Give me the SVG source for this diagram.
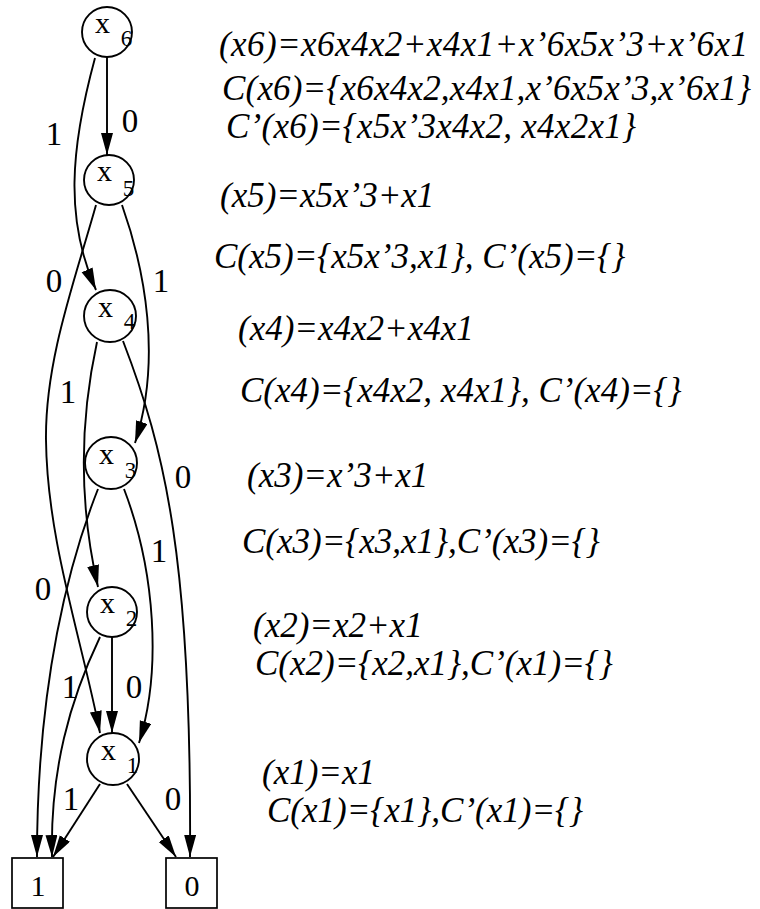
<svg xmlns="http://www.w3.org/2000/svg" width="760" height="909" viewBox="0 0 760 909">
<style>
  .nd { fill: #fff; stroke: #000; stroke-width: 1.9; }
  .bx { fill: #fff; stroke: #000; stroke-width: 1.7; }
  .vx { font-family: "Liberation Serif", "Times New Roman", serif; font-size: 30px; fill: #000; text-anchor: middle; }
  .sb { font-family: "Liberation Serif", "Times New Roman", serif; font-size: 23px; fill: #000; text-anchor: middle; }
  .bl { font-family: "Liberation Serif", "Times New Roman", serif; font-size: 30px; fill: #000; text-anchor: middle; }
  .el { font-family: "Liberation Serif", "Times New Roman", serif; font-size: 33px; fill: #000; text-anchor: middle; }
  .ed { fill: none; stroke: #000; stroke-width: 1.9; marker-end: url(#ah); }
  .eq { font-family: "Liberation Serif", "Times New Roman", serif; font-style: italic; font-size: 35px; fill: #000; }
</style>
<defs>
  <marker id="ah" markerUnits="userSpaceOnUse" markerWidth="23" markerHeight="13" refX="22" refY="6" orient="auto">
    <path d="M0,0 L22,6 L0,12 z" fill="#000"/>
  </marker>
</defs>
<rect width="760" height="909" fill="#fff"/>

<g id="connectors">
  <path id="e_x6_x5" class="ed" d="M107,57 L107,155"/>
  <path id="e_x6_x4" class="ed" d="M95,58 C70,150 65,220 96,290"/>
  <path id="e_x5_x1" class="ed" d="M96,205 C75,280 45,360 46,440 C47,540 82,640 100,733"/>
  <path id="e_x5_x3" class="ed" d="M122,205 C145,270 162,360 135,443"/>
  <path id="e_x4_x2" class="ed" d="M97,342 C80,420 78,500 98,587"/>
  <path id="e_x4_b0" class="ed" d="M123,341 C165,450 192,560 190,857"/>
  <path id="e_x3_b1" class="ed" d="M98,489 C70,560 37,680 37,857"/>
  <path id="e_x3_x1" class="ed" d="M124,489 C155,570 162,670 139,743"/>
  <path id="e_x2_b1" class="ed" d="M100,637 C70,700 50,770 52,857"/>
  <path id="e_x2_x1" class="ed" d="M112,637 L112,733"/>
  <path id="e_x1_b1" class="ed" d="M100,784 L53,857"/>
  <path id="e_x1_b0" class="ed" d="M127,784 L176,857"/>
  <g id="edge-labels">
    <text class="el" x="54" y="145">1</text>
    <text class="el" x="130" y="132">0</text>
    <text class="el" x="54" y="292">0</text>
    <text class="el" x="161" y="292">1</text>
    <text class="el" x="68" y="403">1</text>
    <text class="el" x="183" y="488">0</text>
    <text class="el" x="43" y="600">0</text>
    <text class="el" x="159" y="562">1</text>
    <text class="el" x="70" y="698">1</text>
    <text class="el" x="134" y="698">0</text>
    <text class="el" x="71" y="810">1</text>
    <text class="el" x="173" y="810">0</text>
  </g>
</g>

<g id="x6">
  <circle class="nd" cx="107" cy="32" r="25"/>
  <text class="vx" x="102.5" y="33">x</text>
  <text class="sb" x="126.5" y="46">6</text>
</g>
<g id="x5">
  <circle class="nd" cx="109" cy="180" r="25"/>
  <text class="vx" x="104.5" y="181">x</text>
  <text class="sb" x="128.5" y="196">5</text>
</g>
<g id="x4">
  <circle class="nd" cx="110" cy="316" r="26"/>
  <text class="vx" x="105.5" y="317">x</text>
  <text class="sb" x="129.5" y="329">4</text>
</g>
<g id="x3">
  <circle class="nd" cx="111" cy="463" r="26"/>
  <text class="vx" x="106.5" y="464">x</text>
  <text class="sb" x="130.5" y="478">3</text>
</g>
<g id="x2">
  <circle class="nd" cx="112" cy="612" r="25"/>
  <text class="vx" x="107.5" y="613">x</text>
  <text class="sb" x="131.5" y="626">2</text>
</g>
<g id="x1">
  <circle class="nd" cx="113" cy="759" r="26"/>
  <text class="vx" x="108.5" y="760">x</text>
  <text class="sb" x="132.5" y="773">1</text>
</g>
<g id="t1">
  <rect class="bx" x="12" y="858" width="51" height="50"/>
  <text class="bl" x="38" y="896">1</text>
</g>
<g id="t0">
  <rect class="bx" x="166" y="858" width="51" height="50"/>
  <text class="bl" x="192" y="896">0</text>
</g>

<g id="annotations">
  <text class="eq" x="219" y="56" textLength="529">(x6)=x6x4x2+x4x1+x&#8217;6x5x&#8217;3+x&#8217;6x1</text>
  <text class="eq" x="222" y="100" textLength="529">C(x6)={x6x4x2,x4x1,x&#8217;6x5x&#8217;3,x&#8217;6x1}</text>
  <text class="eq" x="226" y="138" textLength="410">C&#8217;(x6)={x5x&#8217;3x4x2, x4x2x1}</text>
  <text class="eq" x="220" y="207">(x5)=x5x&#8217;3+x1</text>
  <text class="eq" x="214" y="268">C(x5)={x5x&#8217;3,x1}, C&#8217;(x5)={}</text>
  <text class="eq" x="238" y="340">(x4)=x4x2+x4x1</text>
  <text class="eq" x="240" y="402">C(x4)={x4x2, x4x1}, C&#8217;(x4)={}</text>
  <text class="eq" x="247" y="487">(x3)=x&#8217;3+x1</text>
  <text class="eq" x="242" y="553">C(x3)={x3,x1},C&#8217;(x3)={}</text>
  <text class="eq" x="253" y="637">(x2)=x2+x1</text>
  <text class="eq" x="255" y="675">C(x2)={x2,x1},C&#8217;(x1)={}</text>
  <text class="eq" x="262" y="784">(x1)=x1</text>
  <text class="eq" x="267" y="822">C(x1)={x1},C&#8217;(x1)={}</text>
</g>
</svg>
